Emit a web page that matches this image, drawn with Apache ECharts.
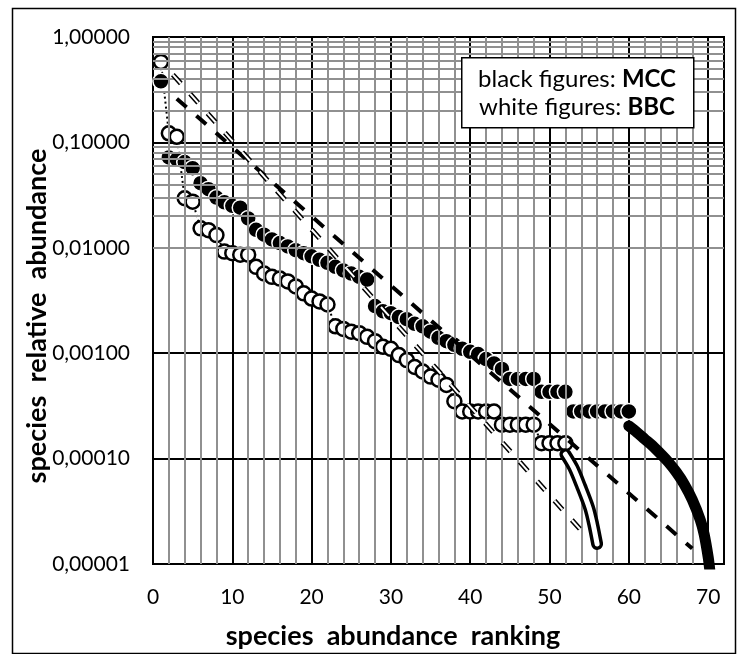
<!DOCTYPE html>
<html><head><meta charset="utf-8">
<script src="https://cdn.jsdelivr.net/npm/echarts@6/dist/echarts.min.js"></script>
<style>html,body{margin:0;padding:0;background:#fff}#c{width:737px;height:654px}</style>
</head><body><div id="c"></div>
<script>
// MCC (black figures)
const mccRanks = [1,2,3,4,5,6,7,8,9,10,11,12,13,14,15,16,17,18,19,20,21,22,23,24,25,26,27,28,29,30,31,32,33,34,35,36,37,38,39,40,41,42,43,44,45,46,47,48,49,50,51,52,53,54,55,56,57,58,59,60];
const mccValues = [0.38,0.072,0.069,0.065,0.057,0.041,0.036,0.030,0.027,0.025,0.024,0.019,0.0148,0.0133,0.0120,0.0111,0.0103,0.0095,0.0089,0.0083,0.0077,0.0072,0.0066,0.0061,0.0057,0.0053,0.0050,0.0028,0.0025,0.0024,0.0022,0.0021,0.0019,0.0018,0.0016,0.0014,0.0013,0.0012,0.0011,0.00103,0.00098,0.00088,0.00080,0.00071,0.00057,0.00057,0.00057,0.00057,0.00043,0.00043,0.00043,0.00043,0.00028,0.00028,0.00028,0.00028,0.00028,0.00028,0.00028,0.00028];
// BBC (white figures)
const bbcRanks = [1,2,3,4,5,6,7,8,9,10,11,12,13,14,15,16,17,18,19,20,21,22,23,24,25,26,27,28,29,30,31,32,33,34,35,36,37,38,39,40,41,42,43,44,45,46,47,48,49,50,51,52];
const bbcValues = [0.58,0.122,0.113,0.0295,0.0274,0.0153,0.0147,0.0132,0.0092,0.0089,0.0086,0.0086,0.0066,0.0057,0.0053,0.0051,0.0048,0.0043,0.0037,0.0033,0.0031,0.0029,0.0018,0.0017,0.0016,0.00155,0.00143,0.0013,0.00115,0.0011,0.00096,0.00086,0.00074,0.00067,0.00060,0.00056,0.00050,0.00035,0.00028,0.00028,0.00028,0.00028,0.00028,0.00021,0.00021,0.00021,0.00021,0.00021,0.00014,0.00014,0.00014,0.00014];
// fitted tails
const mccTailX = [60,61,62,63,64,65,66,67,68,69,69.5,70,70.2];
const mccTailY = [0.000204,0.000178,0.000153,0.000132,0.000111,0.0000923,0.0000741,0.0000569,0.0000407,0.0000263,0.0000191,0.0000117,0.0000089];
const bbcTailX = [52,53,54,55,55.5,56];
const bbcTailY = [0.00011,0.000082,0.000054,0.000034,0.000024,0.0000155];
// straight trend lines
const mccTrendX = [3,68];
const mccTrendY = [0.26,0.000014];
const bbcTrendX = [2.5,54.3];
const bbcTrendY = [0.44,0.0000196];
// grid ticks
const xMinor = [2,4,6,8,12,14,16,18,22,24,26,28,32,34,36,38,42,44,46,48,52,54,56,58,62,64,66,68];
const yDecades = [0.00001,0.0001,0.001,0.01,0.1];
const yMinorMult = [2,3,4,5,6,7,8,9];
// texts
const xTitle = 'species  abundance  ranking';
const yTitle = 'species  relative  abundance';
const legendLines = [['black figures: ','MCC'],['white figures: ','BBC']];

const zip = (a,b) => a.map((v,i) => [v,b[i]]);
const FONT = 'Lato';

const minorLines = [];
xMinor.forEach(v => minorLines.push({xAxis: v}));
yDecades.forEach(d => yMinorMult.forEach(m => minorLines.push({yAxis: +(d*m).toPrecision(3)})));

const rich = {n:{fontFamily:FONT, fontSize:24, fill:'#000', color:'#000'}, b:{fontFamily:FONT, fontSize:24, fontWeight:'bold', fill:'#000', color:'#000'}};

const chart = echarts.init(document.getElementById('c'));
chart.setOption({
  animation: false,
  backgroundColor: '#fff',
  grid: {left:153, right:13, top:37, bottom:90, show:true, borderColor:'#000', borderWidth:2, backgroundColor:'transparent'},
  xAxis: {
    type:'value', min:0, max:72, interval:10,
    axisLine:{show:true, lineStyle:{color:'#000', width:2}},
    axisTick:{show:false},
    axisLabel:{fontFamily:FONT, fontSize:21, color:'#000', margin:23, formatter: v => (v % 10 === 0 ? String(v) : '')},
    splitLine:{show:true, lineStyle:{color:'#000', width:2}}
  },
  yAxis: {
    type:'log', logBase:10, min:0.00001, max:1,
    axisLine:{show:true, lineStyle:{color:'#000', width:2}},
    axisTick:{show:false},
    axisLabel:{fontFamily:FONT, fontSize:21, color:'#000', margin:23, formatter: v => Number(v).toFixed(5).replace('.', ',')},
    splitLine:{show:true, lineStyle:{color:'#000', width:2}}
  },
  graphic: [
    {type:'rect', left:10, top:6, z:-10, shape:{width:723, height:645}, style:{fill:'none', stroke:'#000', lineWidth:1.5}},
    {type:'text', x:393, y:636, z:50, style:{text:xTitle, font:'bold 27px Lato', fill:'#000', textAlign:'center', textVerticalAlign:'middle'}},
    {type:'text', x:37, y:316, rotation:Math.PI/2, z:50, style:{text:yTitle, font:'bold 27px Lato', fill:'#000', textAlign:'center', textVerticalAlign:'middle'}},
    {type:'rect', left:461, top:57, z:100, shape:{width:232, height:70}, style:{fill:'#fff', stroke:'#000', lineWidth:1.5}},
    {type:'text', x:577, y:79, z:101, style:{text:'{n|'+legendLines[0][0]+'}{b|'+legendLines[0][1]+'}', textAlign:'center', textVerticalAlign:'middle', rich:rich}},
    {type:'text', x:577, y:107, z:101, style:{text:'{n|'+legendLines[1][0]+'}{b|'+legendLines[1][1]+'}', textAlign:'center', textVerticalAlign:'middle', rich:rich}}
  ],
  series: [
    {type:'line', z:1, data:[], silent:true, symbol:'none',
      markLine:{silent:true, symbol:['none','none'], label:{show:false}, animation:false,
        lineStyle:{color:'#909090', width:2, type:'solid'}, emphasis:{disabled:true}, data:minorLines}},
    {type:'line', name:'BBC', z:3, data:zip(bbcRanks,bbcValues), symbol:'circle', symbolSize:14, showAllSymbol:true,
      lineStyle:{color:'#000', width:2, type:[2,3]},
      itemStyle:{color:'#fff', borderColor:'#000', borderWidth:2.5, opacity:1}},
    {type:'scatter', name:'MCC', z:4, data:zip(mccRanks,mccValues), symbol:'circle', symbolSize:16,
      itemStyle:{color:'#000', borderColor:'#fff', borderWidth:1.5, opacity:1}},
    {type:'line', z:5, data:zip(mccTrendX,mccTrendY), symbol:'none', lineStyle:{color:'#000', width:4, type:[13,13]}},
    {type:'line', z:5, data:zip(bbcTrendX,bbcTrendY), symbol:'none', lineStyle:{color:'#000', width:5, type:[12,14]}},
    {type:'line', z:6, data:zip(bbcTrendX,bbcTrendY), symbol:'none', lineStyle:{color:'#fff', width:2, type:[12,14]}},
    {type:'line', z:5, data:zip(mccTailX,mccTailY), symbol:'none', smooth:0.3, lineStyle:{color:'#000', width:11, cap:'round'}},
    {type:'line', z:5, data:zip(bbcTailX,bbcTailY), symbol:'none', smooth:0.3, lineStyle:{color:'#000', width:12, cap:'round'}},
    {type:'line', z:6, data:zip(bbcTailX,bbcTailY), symbol:'none', smooth:0.3, lineStyle:{color:'#fff', width:5, cap:'round'}}
  ]
});
</script></body></html>
